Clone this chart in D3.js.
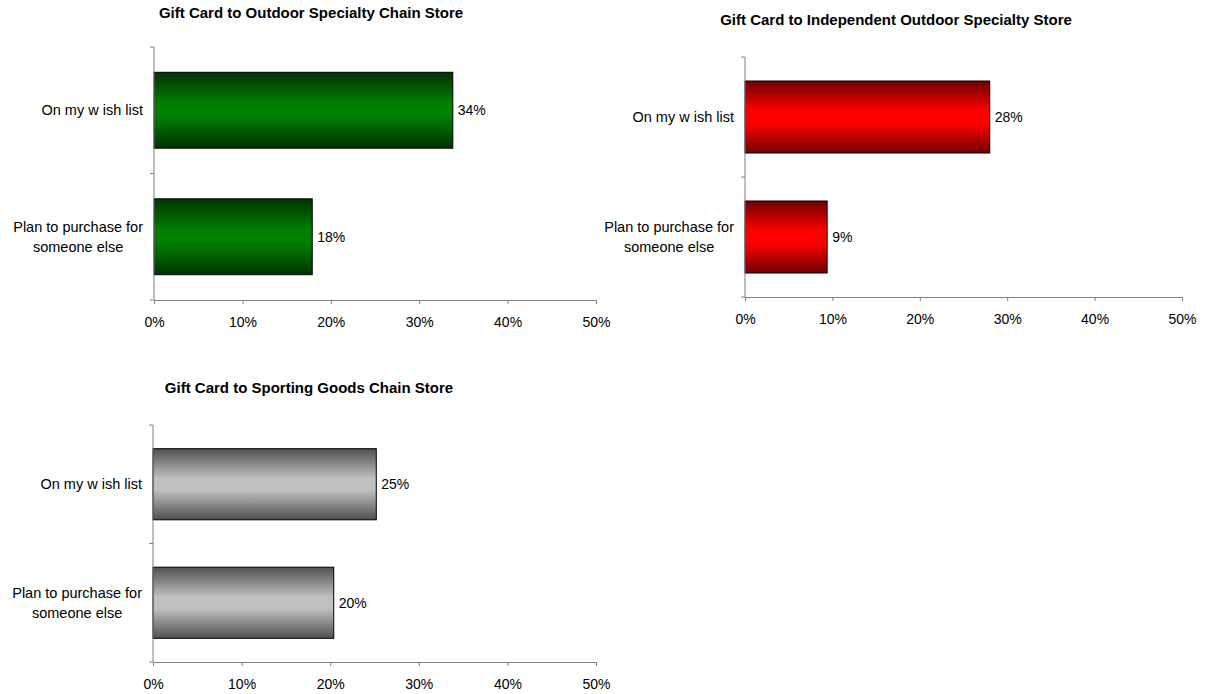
<!DOCTYPE html>
<html><head><meta charset="utf-8">
<script src="https://cdn.jsdelivr.net/npm/d3@7"></script>
<style>body{margin:0;background:#fff}svg{display:block}text{font-family:"Liberation Sans",Arial,sans-serif}</style>
</head><body>
<svg id="c" width="1214" height="694"></svg>
<script>
const categories = [["On my w ish list"], ["Plan to purchase for", "someone else"]];
const titles = ["Gift Card to Outdoor Specialty Chain Store", "Gift Card to Independent Outdoor Specialty Store", "Gift Card to Sporting Goods Chain Store"];
const outdoorChain = [33.8, 17.9];
const independent = [28.0, 9.4];
const sportingChain = [25.2, 20.4];
const valueLabels = [["34%", "18%"], ["28%", "9%"], ["25%", "20%"]];
const xTicks = [0, 10, 20, 30, 40, 50];
const xTickLabels = ["0%", "10%", "20%", "30%", "40%", "50%"];

const svg = d3.select("#c");
const defs = svg.append("defs");
function grad(id, edge, mid) {
  const g = defs.append("linearGradient").attr("id", id).attr("x1", 0).attr("y1", 0).attr("x2", 0).attr("y2", 1);
  [[0, edge], [0.42, mid], [0.58, mid], [1, edge]].forEach(([o, c]) => g.append("stop").attr("offset", o).attr("stop-color", c));
}
grad("gGreen", "#003300", "#008000");
grad("gRed", "#700000", "#ff0000");
grad("gGray", "#505050", "#c0c0c0");

const panels = [
  {vals: outdoorChain, labels: valueLabels[0], title: titles[0], x0: 154, x1: 596, y0: 47, y1: 300, tx: 311, ty: 18, fill: "url(#gGreen)"},
  {vals: independent, labels: valueLabels[1], title: titles[1], x0: 745, x1: 1182, y0: 57, y1: 297, tx: 896, ty: 25, fill: "url(#gRed)"},
  {vals: sportingChain, labels: valueLabels[2], title: titles[2], x0: 153, x1: 596, y0: 425, y1: 662, tx: 309, ty: 393, fill: "url(#gGray)"}
];

panels.forEach(p => {
  const g = svg.append("g");
  const x = d3.scaleLinear().domain([0, 50]).range([p.x0, p.x1]);
  const y = d3.scaleBand().domain(d3.range(categories.length)).range([p.y0, p.y1]).paddingInner(0.4).paddingOuter(0.2);

  g.append("text").attr("x", p.tx).attr("y", p.ty).attr("text-anchor", "middle")
    .attr("font-size", 15).attr("font-weight", "bold").attr("fill", "#000").text(p.title);

  g.selectAll("rect.bar").data(p.vals).join("rect").attr("class", "bar")
    .attr("x", x(0)).attr("y", (d, i) => y(i)).attr("width", d => x(d) - x(0)).attr("height", y.bandwidth())
    .attr("fill", p.fill).attr("stroke", "#000").attr("stroke-width", 1);

  g.selectAll("text.val").data(p.vals).join("text").attr("class", "val")
    .attr("x", d => x(d) + 5).attr("y", (d, i) => y(i) + y.bandwidth() / 2 + 5)
    .attr("font-size", 14).attr("fill", "#000").text((d, i) => p.labels[i]);

  const xa = g.append("g").attr("transform", `translate(0,${p.y1})`)
    .call(d3.axisBottom(x).tickValues(xTicks).tickFormat((d, i) => xTickLabels[i]).tickSize(4).tickSizeOuter(0));
  xa.select(".domain").attr("stroke", "#808080");
  xa.selectAll(".tick line").attr("stroke", "#808080");
  xa.selectAll(".tick text").attr("font-size", 14).attr("fill", "#000").attr("dy", "1.45em").attr("font-family", '"Liberation Sans",Arial,sans-serif');

  const step = y.step();
  const bounds = [p.y0, p.y0 + step, p.y1];
  g.append("line").attr("x1", p.x0).attr("x2", p.x0).attr("y1", p.y0).attr("y2", p.y1).attr("stroke", "#808080");
  g.selectAll("line.yt").data(bounds).join("line").attr("class", "yt")
    .attr("x1", p.x0 - 4).attr("x2", p.x0).attr("y1", d => d).attr("y2", d => d).attr("stroke", "#808080");

  categories.forEach((lines, i) => {
    const cy = y(i) + y.bandwidth() / 2;
    const t = g.append("text").attr("font-size", 14.5).attr("fill", "#000").attr("text-anchor", "middle");
    const lh = 20;
    lines.forEach((ln, k) => {
      t.append("tspan").attr("y", cy + 5 + (k - (lines.length - 1) / 2) * lh).text(ln);
    });
    const spans = t.selectAll("tspan").nodes();
    const w = d3.max(spans, s => s.getComputedTextLength());
    const right = p.x0 - 11;
    spans.forEach(s => d3.select(s).attr("x", right - w / 2));
  });
});
</script>
</body></html>
